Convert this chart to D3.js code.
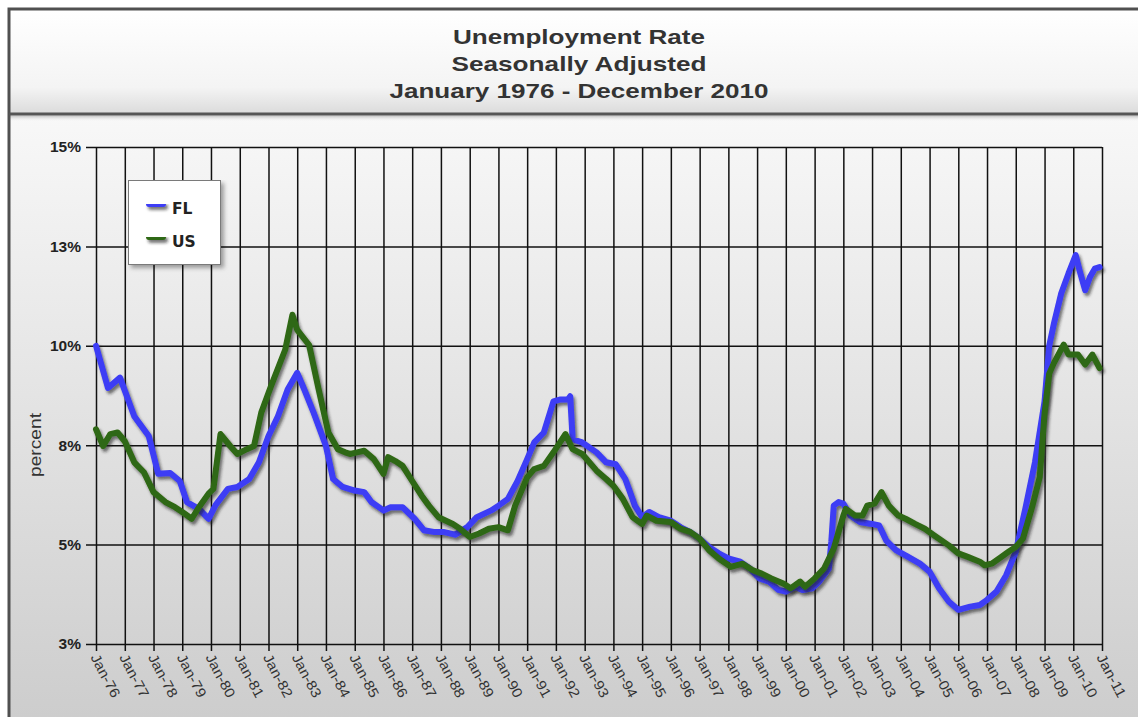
<!DOCTYPE html>
<html>
<head>
<meta charset="utf-8">
<script src="https://cdn.jsdelivr.net/npm/d3@7"></script>
<style>
  html, body { margin: 0; padding: 0; background: #ffffff; }
  svg { display: block; }
</style>
</head>
<body>
<svg id="chart" width="1138" height="717"></svg>
<script>
// ---------------- DATA ----------------
const titleLines = ["Unemployment Rate", "Seasonally Adjusted", "January 1976 - December 2010"];
const seriesNames = ["FL", "US"];
const yAxisTitle = "percent";

const yTickValues = [2.5, 5, 7.5, 10, 12.5, 15];
const yTickLabels = ["3%", "5%", "8%", "10%", "13%", "15%"];

const flDates = ["1976-01","1976-06","1976-11","1977-05","1977-11","1978-03","1978-08","1978-12","1979-03","1979-08","1979-12",
  "1980-03","1980-08","1980-12","1981-05","1981-09","1982-01","1982-05","1982-09","1983-01","1983-04","1983-08",
  "1984-01","1984-04","1984-08","1985-01","1985-05","1985-08","1986-01","1986-04","1986-09","1987-02","1987-06","1987-10",
  "1988-02","1988-07","1988-12","1989-04","1989-10","1990-01","1990-05","1990-09","1991-01","1991-04","1991-08","1991-12",
  "1992-03","1992-06","1992-07","1992-08","1992-12","1993-06","1993-10","1994-02","1994-06","1994-10","1995-01","1995-04",
  "1995-08","1996-01","1996-05","1996-09","1997-01","1997-05","1997-09","1998-01","1998-06","1998-10","1999-02","1999-06",
  "1999-10","2000-01","2000-05","2000-08","2000-12","2001-03","2001-07","2001-08","2001-09","2001-11","2002-01","2002-04",
  "2002-08","2003-01","2003-04","2003-07","2003-11","2004-03","2004-09","2005-01","2005-05","2005-09","2006-01","2006-06",
  "2006-10","2007-01","2007-05","2007-09","2008-01","2008-05","2008-09","2009-01","2009-03","2009-05","2009-08","2009-11",
  "2010-02","2010-04","2010-06","2010-08","2010-10","2010-12"];
const flValues = [10.0,8.94,9.2,8.23,7.73,6.78,6.8,6.6,6.07,5.9,5.65,
  6.0,6.4,6.45,6.65,7.07,7.73,8.23,8.9,9.32,8.9,8.3,
  7.48,6.65,6.45,6.36,6.32,6.07,5.86,5.94,5.94,5.65,5.36,5.32,
  5.32,5.25,5.44,5.69,5.86,5.98,6.15,6.6,7.15,7.57,7.82,8.6,
  8.65,8.65,8.73,7.65,7.57,7.32,7.07,7.02,6.65,5.98,5.69,5.82,
  5.69,5.6,5.44,5.32,5.15,4.94,4.78,4.65,4.57,4.4,4.15,4.07,
  3.86,3.82,3.94,3.86,3.9,4.07,4.4,5.07,5.98,6.07,6.03,5.73,
  5.57,5.52,5.48,5.1,4.86,4.73,4.52,4.32,3.9,3.57,3.36,3.44,
  3.48,3.61,3.82,4.23,4.82,5.9,7.07,8.6,10.0,10.57,11.32,11.82,
  12.28,11.82,11.4,11.73,11.94,11.98];

const usDates = ["1976-01","1976-04","1976-07","1976-10","1977-01","1977-05","1977-09","1978-01","1978-06","1978-10","1979-01",
  "1979-05","1979-08","1979-12","1980-02","1980-05","1980-09","1980-12","1981-04","1981-07","1981-10","1982-02","1982-08",
  "1982-11","1983-01","1983-06","1983-10","1984-02","1984-06","1984-09","1984-11","1985-02","1985-05","1985-09","1986-01",
  "1986-03","1986-06","1986-09","1987-01","1987-05","1987-08","1987-12","1988-06","1988-09","1989-01","1989-05","1989-09",
  "1990-01","1990-05","1990-08","1991-01","1991-04","1991-08","1991-12","1992-05","1992-08","1992-12","1993-06","1993-10",
  "1994-01","1994-05","1994-09","1995-01","1995-03","1995-07","1996-01","1996-05","1996-09","1997-01","1997-05","1997-09",
  "1998-02","1998-07","1998-11","1999-03","1999-07","1999-12","2000-03","2000-07","2000-09","2001-01","2001-05","2001-09",
  "2002-01","2002-02","2002-06","2002-09","2002-11","2003-02","2003-05","2003-08","2003-12","2004-03","2004-07","2004-11",
  "2005-03","2005-09","2006-01","2006-05","2006-10","2006-12","2007-03","2007-07","2007-10","2008-01","2008-04","2008-08",
  "2008-11","2009-01","2009-03","2009-05","2009-09","2009-11","2010-03","2010-06","2010-09","2010-12"];
const usValues = [7.9,7.48,7.78,7.82,7.6,7.07,6.82,6.32,6.07,5.94,5.82,
  5.65,5.94,6.28,6.4,7.78,7.48,7.28,7.4,7.48,8.32,8.98,9.9,
  10.78,10.4,10.02,8.9,7.82,7.4,7.32,7.28,7.32,7.36,7.15,6.78,
  7.2,7.1,6.98,6.6,6.23,5.98,5.69,5.52,5.4,5.19,5.28,5.4,
  5.44,5.36,5.98,6.69,6.9,6.98,7.32,7.78,7.4,7.28,6.86,6.65,
  6.48,6.15,5.69,5.52,5.73,5.6,5.57,5.4,5.32,5.15,4.86,4.65,
  4.44,4.52,4.36,4.27,4.15,4.02,3.9,4.07,3.94,4.15,4.4,4.9,
  5.73,5.9,5.73,5.73,5.98,6.03,6.32,5.98,5.73,5.65,5.52,5.4,
  5.23,4.98,4.78,4.69,4.57,4.48,4.52,4.69,4.82,4.94,5.15,5.98,
  6.7,8.3,9.3,9.57,10.03,9.78,9.78,9.53,9.78,9.44];

const seriesColors = ["#3c3cf5", "#2f6812"];

// ---------------- LAYOUT ----------------
const W = 1138, H = 717;
const plot = { left: 96, right: 1102, top: 147, bottom: 644 };
const parse = d3.timeParse("%Y-%m");

const svg = d3.select("#chart");
const defs = svg.append("defs");

const tg = defs.append("linearGradient").attr("id", "titleGrad").attr("x1", 0).attr("y1", 0).attr("x2", 0).attr("y2", 1);
tg.append("stop").attr("offset", 0).attr("stop-color", "#ffffff");
tg.append("stop").attr("offset", 0.75).attr("stop-color", "#f4f4f4");
tg.append("stop").attr("offset", 1).attr("stop-color", "#dcdcdc");

const bg = defs.append("linearGradient").attr("id", "bodyGrad").attr("x1", 0).attr("y1", 0).attr("x2", 0).attr("y2", 1);
bg.append("stop").attr("offset", 0).attr("stop-color", "#f8f8f8");
bg.append("stop").attr("offset", 1).attr("stop-color", "#cdcdcd");

const sg = defs.append("linearGradient").attr("id", "sepShadow").attr("x1", 0).attr("y1", 0).attr("x2", 0).attr("y2", 1);
sg.append("stop").attr("offset", 0).attr("stop-color", "#b0b0b0").attr("stop-opacity", 0.8);
sg.append("stop").attr("offset", 1).attr("stop-color", "#f8f8f8").attr("stop-opacity", 0);

// drop shadow filters in user space so thin/flat shapes still render
const f = defs.append("filter").attr("id", "lineShadow").attr("filterUnits", "userSpaceOnUse")
  .attr("x", 0).attr("y", 0).attr("width", W).attr("height", H);
f.append("feDropShadow").attr("dx", 2).attr("dy", 3).attr("stdDeviation", 1.8)
  .attr("flood-color", "#1a1a1a").attr("flood-opacity", 0.6);

const fb = defs.append("filter").attr("id", "boxShadow").attr("filterUnits", "userSpaceOnUse")
  .attr("x", 0).attr("y", 0).attr("width", W).attr("height", H);
fb.append("feDropShadow").attr("dx", 3).attr("dy", 3).attr("stdDeviation", 2)
  .attr("flood-color", "#000").attr("flood-opacity", 0.35);

// backgrounds
svg.append("rect").attr("x", 0).attr("y", 0).attr("width", W).attr("height", H).attr("fill", "#ffffff");
svg.append("rect").attr("x", 10).attr("y", 10).attr("width", W - 10).attr("height", 103).attr("fill", "url(#titleGrad)");
svg.append("rect").attr("x", 10).attr("y", 115).attr("width", W - 10).attr("height", H - 115).attr("fill", "url(#bodyGrad)");
svg.append("rect").attr("x", 10).attr("y", 115.5).attr("width", W - 10).attr("height", 6).attr("fill", "url(#sepShadow)");
// frame + separator
svg.append("rect").attr("x", 9).attr("y", 9).attr("width", 1400).attr("height", 900)
  .attr("fill", "none").attr("stroke", "#505050").attr("stroke-width", 3);
svg.append("line").attr("x1", 9).attr("x2", W).attr("y1", 114).attr("y2", 114)
  .attr("stroke", "#555").attr("stroke-width", 3);

// title
const titleX = 579;
const titleBase = [44, 71, 97.5];
const titleLen = [252, 255, 379];
svg.append("g").selectAll("text").data(titleLines).join("text")
  .attr("x", titleX).attr("y", (d, i) => titleBase[i])
  .attr("text-anchor", "middle")
  .attr("textLength", (d, i) => titleLen[i]).attr("lengthAdjust", "spacingAndGlyphs")
  .attr("font-family", "'Liberation Sans', Arial, sans-serif")
  .attr("font-weight", "bold").attr("font-size", 20.5).attr("fill", "#333")
  .text(d => d);

// scales
const x = d3.scaleTime().domain([parse("1976-01"), parse("2011-01")]).range([plot.left, plot.right]);
const y = d3.scaleLinear().domain([2.5, 15]).range([plot.bottom, plot.top]);
const plotW = plot.right - plot.left, plotH = plot.bottom - plot.top;

// x axis with full-height gridlines
const xAxis = d3.axisBottom(x).ticks(d3.timeYear.every(1)).tickFormat(d3.timeFormat("%b-%y"))
  .tickSizeInner(7).tickSizeOuter(0);
const gx = svg.append("g").attr("transform", `translate(0,${plot.bottom})`).call(xAxis);
gx.select(".domain").remove();
gx.selectAll(".tick line").attr("y1", -plotH).attr("stroke", "#111").attr("stroke-width", 1.5);
gx.selectAll(".tick text")
  .attr("x", 0).attr("y", 0).attr("dy", "0.35em")
  .attr("text-anchor", "start")
  .attr("transform", "translate(-2,11) rotate(62)")
  .attr("textLength", 47).attr("lengthAdjust", "spacingAndGlyphs")
  .attr("font-family", "'Liberation Sans', Arial, sans-serif")
  .attr("font-size", 14).attr("fill", "#333");

// y axis with full-width gridlines
const yAxis = d3.axisLeft(y).tickValues(yTickValues).tickFormat((d, i) => yTickLabels[i])
  .tickSize(10).tickPadding(5);
const gy = svg.append("g").attr("transform", `translate(${plot.left},0)`).call(yAxis);
gy.select(".domain").remove();
gy.selectAll(".tick line").attr("x1", plotW).attr("stroke", "#111").attr("stroke-width", 1.5);
gy.selectAll(".tick text")
  .attr("font-family", "'Liberation Sans', Arial, sans-serif")
  .attr("font-weight", "bold").attr("font-size", 15.5).attr("fill", "#222");

// y axis title
svg.append("text")
  .attr("transform", "translate(35,445) rotate(-90)")
  .attr("text-anchor", "middle").attr("dy", "0.35em")
  .attr("textLength", 64).attr("lengthAdjust", "spacingAndGlyphs")
  .attr("font-family", "'Liberation Sans', Arial, sans-serif")
  .attr("font-size", 17).attr("fill", "#333")
  .text(yAxisTitle);

// lines
const seriesData = [
  flDates.map((d, i) => ({ date: parse(d), value: flValues[i] })),
  usDates.map((d, i) => ({ date: parse(d), value: usValues[i] }))
];
const line = d3.line().x(d => x(d.date)).y(d => y(d.value));
svg.append("g").selectAll("path").data(seriesData).join("path")
  .attr("d", line)
  .attr("fill", "none")
  .attr("stroke", (d, i) => seriesColors[i])
  .attr("stroke-width", 6)
  .attr("stroke-linejoin", "round").attr("stroke-linecap", "round")
  .attr("filter", "url(#lineShadow)");

// legend
const lg = svg.append("g").attr("transform", "translate(128,180)");
lg.append("rect").attr("x", 0.5).attr("y", 0.5).attr("width", 92).attr("height", 84)
  .attr("fill", "#ffffff").attr("stroke", "#7a7a7a").attr("stroke-width", 1)
  .attr("filter", "url(#boxShadow)");
const li = lg.selectAll("g.item").data(seriesNames).join("g").attr("class", "item")
  .attr("transform", (d, i) => `translate(0,${24 + i * 33})`);
li.append("line").attr("x1", 21).attr("x2", 35).attr("y1", 0).attr("y2", 0)
  .attr("stroke", (d, i) => seriesColors[i]).attr("stroke-width", 6)
  .attr("stroke-linecap", "round").attr("filter", "url(#lineShadow)");
li.append("text").attr("x", 44).attr("y", 10)
  .attr("font-family", "'DejaVu Sans', Verdana, sans-serif")
  .attr("font-weight", "bold").attr("font-size", 15.5).attr("fill", "#222")
  .text(d => d);
</script>
</body>
</html>
